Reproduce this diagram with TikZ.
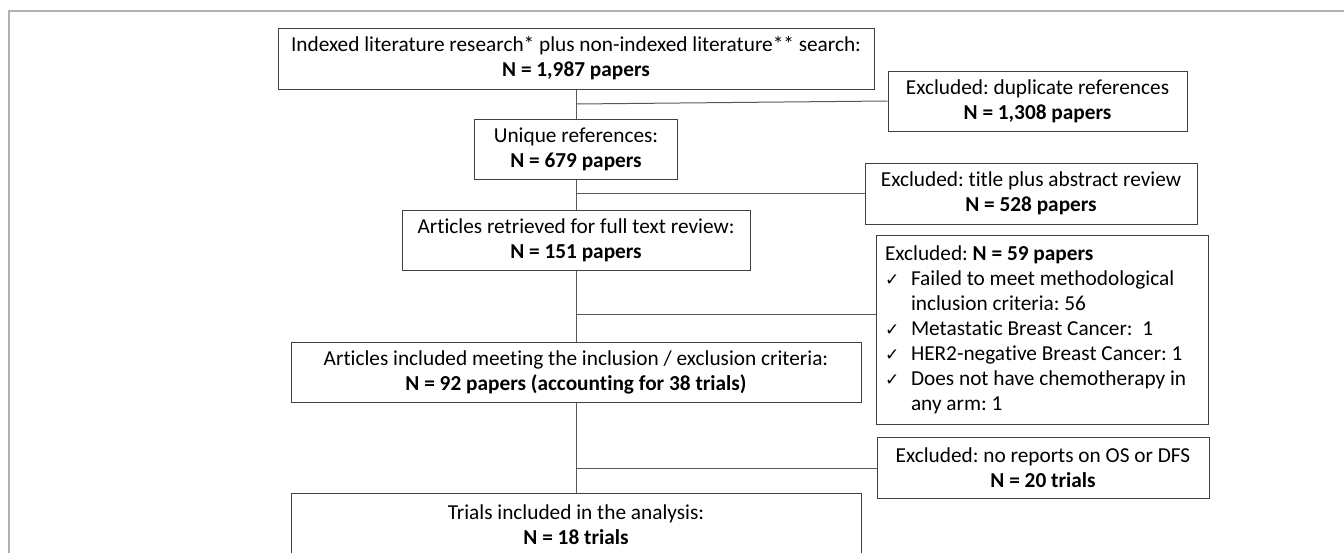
\documentclass[tikz,border=0pt]{standalone}
\usepackage{fontspec}
\setmainfont[Ligatures={NoCommon}]{Carlito}
\newfontfamily\symfont{DejaVu Sans}
\newcommand{\chk}{\makebox[26pt][l]{\symfont\fontsize{17}{17}\selectfont ✓}}
\usetikzlibrary{calc}

\begin{document}
\begin{tikzpicture}[x=1pt,y=-1pt,
	box/.style={draw=black!75,line width=1pt,align=center,inner sep=0pt,font=\fontsize{21.3}{25}\selectfont\frenchspacing},
	link/.style={draw=black!65,line width=1pt}]
	\useasboundingbox (0,0) rectangle (1344,552);
	\clip (0,0) rectangle (1344,552);
	\draw[gray!60,line width=1.2pt] (1350,11) -- (9,11) -- (9,560);

	\node[box,minimum width=596pt,minimum height=61pt] (src) at (576,58.5) {Indexed literature research* plus non-indexed literature** search:\\\textbf{N = 1,987 papers}};
	\node[box,minimum width=299pt,minimum height=60pt] (dup) at (1037.5,101) {Excluded: duplicate references\\\textbf{N = 1,308 papers}};
	\node[box,minimum width=203pt,minimum height=60pt] (uniq) at (576,149) {Unique references:\\\textbf{N = 679 papers}};
	\node[box,minimum width=332pt,minimum height=61pt] (title) at (1031,193.5) {Excluded: title plus abstract review\\\textbf{N = 528 papers}};
	\node[box,minimum width=348pt,minimum height=60pt] (full) at (576,240) {Articles retrieved for full text review:\\\textbf{N = 151 papers}};
	\node[box,align=none,inner xsep=9pt,text width=314pt,minimum height=189pt] (excl59) at (1042,329.5) {\noindent Excluded: \textbf{N = 59 papers}\\
		\chk Failed to meet methodological\\
		\hspace*{26pt}inclusion criteria: 56\\
		\chk Metastatic Breast Cancer:\ \ 1\\
		\chk HER2-negative Breast Cancer: 1\\
		\chk Does not have chemotherapy in\\
		\hspace*{26pt}any arm: 1};
	\node[box,minimum width=570pt,minimum height=60pt] (incl) at (576,372) {Articles included meeting the inclusion / exclusion criteria:\\\textbf{N = 92 papers (accounting for 38 trials)}};
	\node[box,minimum width=332pt,minimum height=61pt] (excl20) at (1043,468) {Excluded: no reports on OS or DFS\\\textbf{N = 20 trials}};
	\node[box,minimum width=570pt,minimum height=63pt] (trials) at (576,524.5) {Trials included in the analysis:\\\textbf{N = 18 trials}};

	\draw[link] (src) -- (uniq);
	\draw[link] (uniq) -- (full);
	\draw[link] (full) -- (incl);
	\draw[link] (incl) -- (trials);
	\draw[link] ($(src.south)!0.5!(uniq.north)$) -- (dup.west);
	\draw[link] (title.west -| uniq.south) -- (title.west);
	\coordinate (j59) at (576,314);
	\draw[link] (j59) -- (j59 -| excl59.west);
	\draw[link] (excl20.west -| incl.south) -- (excl20.west);
\end{tikzpicture}
\end{document}
